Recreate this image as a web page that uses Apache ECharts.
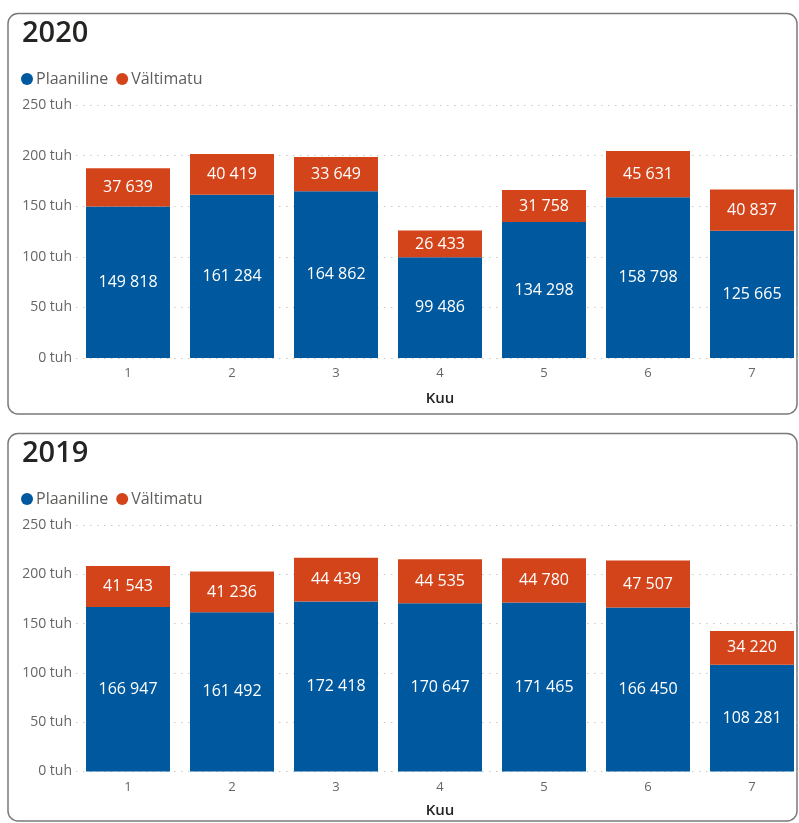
<!DOCTYPE html>
<html>
<head>
<meta charset="utf-8">
<script src="https://cdn.jsdelivr.net/npm/echarts@6/dist/echarts.min.js"></script>
<style>
html,body{margin:0;padding:0;background:#fff;overflow:hidden;width:799px;height:823px;}
#c{width:812px;height:823px;}
</style>
</head>
<body>
<div id="c"></div>
<script>
const months = ['1','2','3','4','5','6','7'];
const plan2020 = [149818,161284,164862,99486,134298,158798,125665];
const urg2020 = [37639,40419,33649,26433,31758,45631,40837];
const plan2019 = [166947,161492,172418,170647,171465,166450,108281];
const urg2019 = [41543,41236,44439,44535,44780,47507,34220];
const yTicks = [0,50000,100000,150000,200000,250000];
const titles = ['2020','2019'];
const seriesNames = ['Plaaniline','Vältimatu'];

const BLUE = '#00599F';
const ORANGE = '#D4441A';
const FONT = 'Open Sans, Noto Sans, sans-serif';

function fmt(v){ return String(v).replace(/\B(?=(\d{3})+(?!\d))/g,' '); }

const chart = echarts.init(document.getElementById('c'), null, {renderer:'canvas'});

const grids = [
  {left:76, width:728, top:105, height:253},
  {left:76, width:728, top:525, height:246.5}
];
const nameGaps = [33, 32];

function xAxis(i){
  return {
    type:'category', gridIndex:i, data:months,
    axisLine:{show:false}, axisTick:{show:false},
    axisLabel:{color:'#666', fontSize:13, fontFamily:FONT, margin:9},
    name:'Kuu', nameLocation:'middle', nameGap:nameGaps[i],
    nameTextStyle:{color:'#252423', fontSize:15, fontWeight:600, fontFamily:FONT}
  };
}
function yAxis(i){
  return {
    type:'value', gridIndex:i, min:yTicks[0], max:yTicks[yTicks.length-1], interval:50000,
    axisLine:{show:false}, axisTick:{show:false},
    axisLabel:{color:'#666', fontSize:14, fontFamily:FONT, margin:4,
      formatter: v => (v/1000) + ' tuh'},
    splitLine:{show:true, lineStyle:{color:'#c8c8c8', type:[1.5,5.5], width:1.2}}
  };
}
function barSeries(name, data, idx, color, stack){
  return {
    name:name, type:'bar', stack:stack, xAxisIndex:idx, yAxisIndex:idx,
    data:data, barWidth:84, itemStyle:{color:color},
    label:{show:true, position:'inside', color:'#fff', fontSize:16, fontFamily:FONT,
      formatter: p => fmt(p.value)}
  };
}
function legend(top){
  return {
    data:seriesNames, left:21, top:top, padding:0, icon:'circle', itemWidth:12, itemHeight:12, itemGap:8,
    textStyle:{color:'#605e5c', fontSize:16, fontFamily:FONT, padding:[0,0,0,-2]}
  };
}

chart.setOption({
  animation:false,
  color:[BLUE, ORANGE],
  title:[
    {text:titles[0], left:17, top:14, textStyle:{color:'#252423', fontSize:29, fontWeight:600, fontFamily:FONT}},
    {text:titles[1], left:17, top:434, textStyle:{color:'#252423', fontSize:29, fontWeight:600, fontFamily:FONT}}
  ],
  legend:[legend(71), legend(491)],
  grid:grids,
  xAxis:[xAxis(0), xAxis(1)],
  yAxis:[yAxis(0), yAxis(1)],
  series:[
    barSeries(seriesNames[0], plan2020, 0, BLUE, 'a'),
    barSeries(seriesNames[1], urg2020, 0, ORANGE, 'a'),
    barSeries(seriesNames[0], plan2019, 1, BLUE, 'b'),
    barSeries(seriesNames[1], urg2019, 1, ORANGE, 'b')
  ],
  graphic:[
    {type:'rect', shape:{x:8, y:13.5, width:789, height:400.5, r:10},
     style:{fill:'none', stroke:'#7a7a7a', lineWidth:1.5}, z:-1, silent:true},
    {type:'rect', shape:{x:8, y:433.5, width:789, height:387.5, r:10},
     style:{fill:'none', stroke:'#7a7a7a', lineWidth:1.5}, z:-1, silent:true}
  ]
});
</script>
</body>
</html>
